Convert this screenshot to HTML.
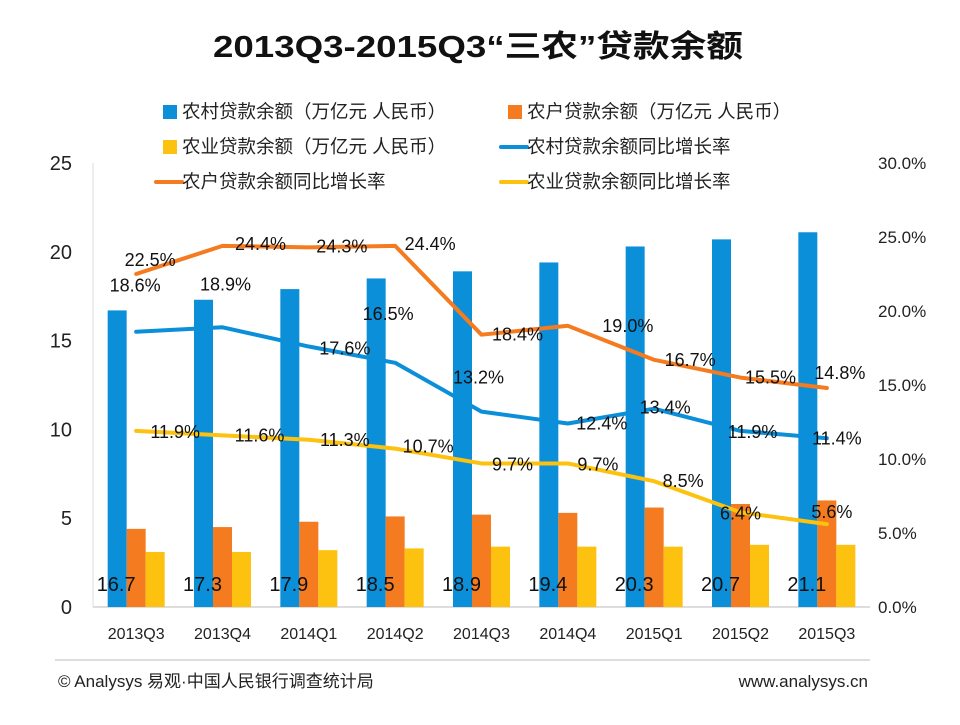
<!DOCTYPE html>
<html><head><meta charset="utf-8">
<style>
body{margin:0;background:#fff;}
svg text{font-family:"Liberation Sans","Noto Sans CJK SC",sans-serif;}
</style></head>
<body>
<svg id="chart" width="960" height="720" xmlns="http://www.w3.org/2000/svg">
<rect width="960" height="720" fill="#fff"/>
<text x="478" y="57" text-anchor="middle" font-size="31" font-weight="bold" fill="#111" textLength="530" lengthAdjust="spacingAndGlyphs">2013Q3-2015Q3“三农”贷款余额</text>
<g id="axes"></g>
<g id="bars"></g>
<g id="lines"></g>
<g id="labels"></g>
<g id="legend"></g>
<line x1="55" y1="660" x2="870" y2="660" stroke="#bbb" stroke-width="1"/>
<text x="58" y="687" font-size="17" fill="#222">© Analysys 易观·中国人民银行调查统计局</text>
<text x="868" y="687" font-size="17" fill="#222" text-anchor="end">www.analysys.cn</text>
</svg>
<script>
const categories=["2013Q3","2013Q4","2014Q1","2014Q2","2014Q3","2014Q4","2015Q1","2015Q2","2015Q3"];
const ruralLoans=[16.7,17.3,17.9,18.5,18.9,19.4,20.3,20.7,21.1];
const farmerLoans=[4.4,4.5,4.8,5.1,5.2,5.3,5.6,5.8,6.0];
const agriLoans=[3.1,3.1,3.2,3.3,3.4,3.4,3.4,3.5,3.5];
const ruralGrowth=[18.6,18.9,17.6,16.5,13.2,12.4,13.4,11.9,11.4];
const farmerGrowth=[22.5,24.4,24.3,24.4,18.4,19.0,16.7,15.5,14.8];
const agriGrowth=[11.9,11.6,11.3,10.7,9.7,9.7,8.5,6.4,5.6];
const leftTicks=[0,5,10,15,20,25];
const rightTicks=[0,5,10,15,20,25,30];

const NS="http://www.w3.org/2000/svg";
const X0=93,X1=870,Y0=607,Y1=163;
const step=(X1-X0)/categories.length;
const xc=i=>X0+step*(i+0.5);
const yL=v=>Y0-(v/25)*(Y0-Y1);
const yR=v=>Y0-(v/30)*(Y0-Y1);
function mk(tag,attrs,parent,txt){const e=document.createElementNS(NS,tag);for(const k in attrs)e.setAttribute(k,attrs[k]);if(txt!==undefined)e.textContent=txt;parent.appendChild(e);return e;}
const axes=document.getElementById('axes');
let e=mk('line',{x1:X0,y1:Y0,x2:X1,y2:Y0,stroke:'#bbb'},axes);


e=mk('line',{x1:X0,y1:Y1,x2:X0,y2:Y0,stroke:'#ddd'},axes);


leftTicks.forEach(t=>{const el=mk('text',{x:72,y:yL(t)+7,'text-anchor':'end','font-size':20,fill:'#222'},axes,String(t));

});
rightTicks.forEach(t=>{const el=mk('text',{x:878,y:yR(t)+6,'font-size':17,fill:'#222'},axes,t.toFixed(1)+'%');

});
categories.forEach((c,i)=>{const el=mk('text',{x:xc(i),y:639,'text-anchor':'middle','font-size':16,fill:'#222'},axes,c);

});
const bars=document.getElementById('bars');
const bw=19;
[[ruralLoans,'#0c8fd9',-1.5],[farmerLoans,'#f47b20',-0.5],[agriLoans,'#fcc20f',0.5]].forEach(([arr,col,off],s)=>{
 arr.forEach((v,i)=>{const r=mk('rect',{x:xc(i)+off*bw,y:yL(v),width:bw,height:Y0-yL(v),fill:col},bars);
 
 });
});
const labels=document.getElementById('labels');
ruralLoans.forEach((v,i)=>{const t=mk('text',{x:xc(i)-20,y:591,'text-anchor':'middle','font-size':20,fill:'#111'},labels,v.toFixed(1));

});
const lines=document.getElementById('lines');
const bdx=[-1,3,36,-7,-3,34,11,12,10],bdy=[-40,-37,8,-43,-28,6,5,7,6];
const odx=[14,38,33,35,36,60,36,30,13],ody=[-8,4,5,4,6,6,6,6,-9];
const adx=[39,37,36,33,31,30,29,0,5],ady=[7,6,6,4,7,7,6,7,-6];
[[ruralGrowth,'#0c8fd9','line-rural-growth',bdx,bdy],[farmerGrowth,'#f47b20','line-farmer-growth',odx,ody],[agriGrowth,'#fcc20f','line-agri-growth',adx,ady]].forEach(([arr,col,nm,dx,dy])=>{
 const p=mk('polyline',{points:arr.map((v,i)=>xc(i)+','+yR(v)).join(' '),fill:'none',stroke:col,'stroke-width':4,'stroke-linejoin':'round','stroke-linecap':'round'},lines);
 
 
 arr.forEach((v,i)=>{const t=mk('text',{x:xc(i)+dx[i],y:yR(v)+dy[i],'text-anchor':'middle','font-size':18,fill:'#111'},labels,v.toFixed(1)+'%');
 
 });
});
const legend=document.getElementById('legend');
const items=[['rect','#0c8fd9','农村贷款余额（万亿元 人民币）',160,112],['rect','#f47b20','农户贷款余额（万亿元 人民币）',505,112],
['rect','#fcc20f','农业贷款余额（万亿元 人民币）',160,147],['line','#0c8fd9','农村贷款余额同比增长率',505,147],
['line','#f47b20','农户贷款余额同比增长率',160,182],['line','#fcc20f','农业贷款余额同比增长率',505,182]];
items.forEach(([k,col,txt,x,y])=>{
 const g=mk('g',{},legend);
 
 
 if(k==='rect')mk('rect',{x:x+3,y:y-7,width:14,height:14,fill:col},g);
 else mk('line',{x1:x-4,y1:y,x2:x+22,y2:y,stroke:col,'stroke-width':4,'stroke-linecap':'round'},g);
 mk('text',{x:x+22,y:y+6,'font-size':18.5,fill:'#222'},g,txt);
});
</script>
</body></html>
